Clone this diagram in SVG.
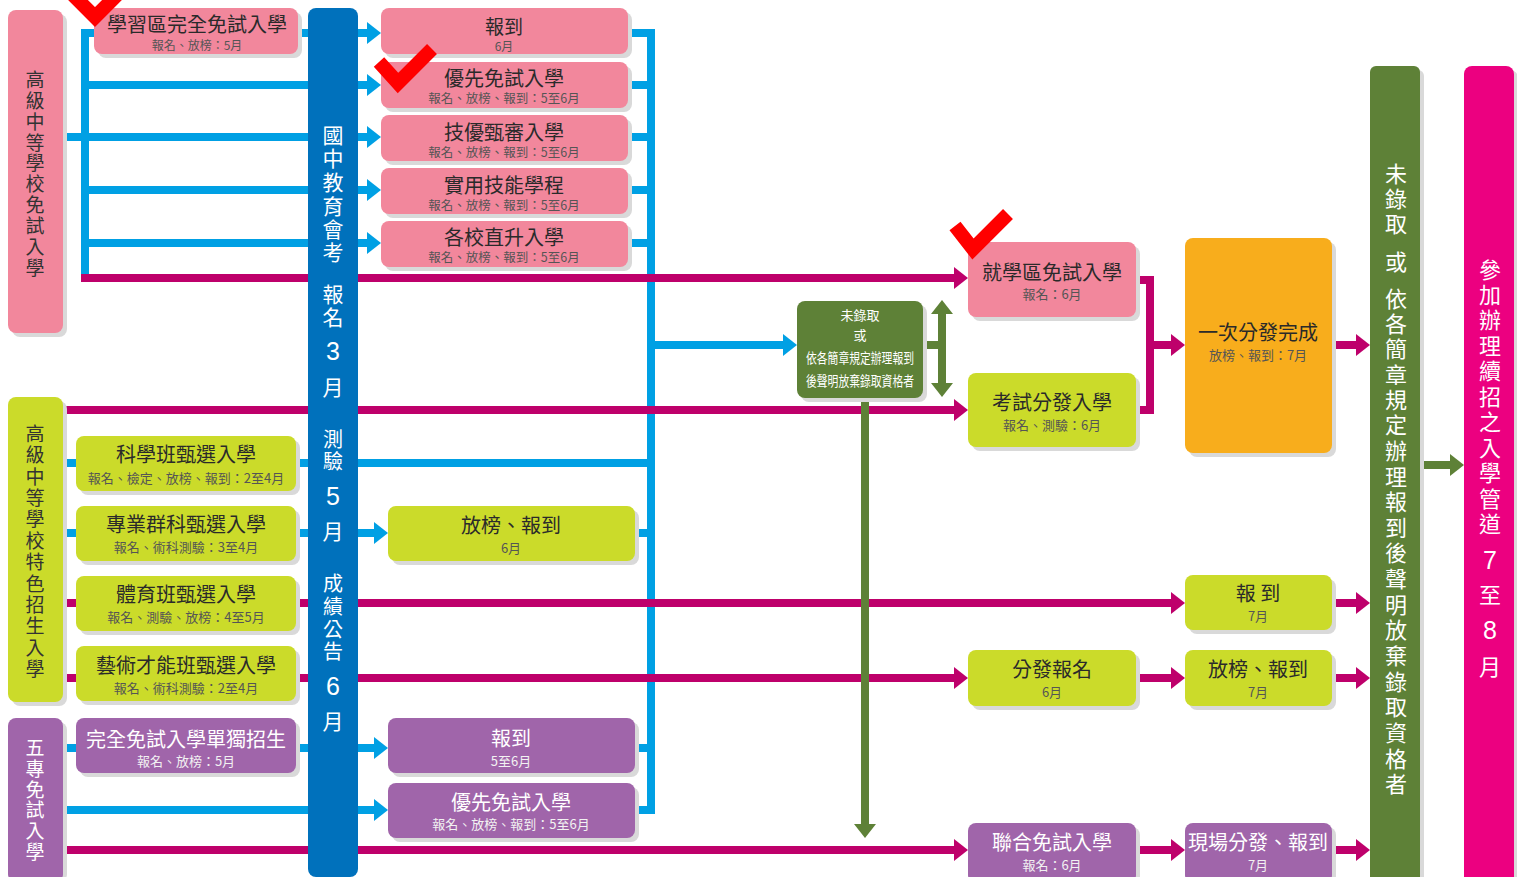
<svg xmlns="http://www.w3.org/2000/svg" width="1517" height="877" viewBox="0 0 1517 877">
<style>
text{font-family:"Noto Sans CJK TC","Noto Sans CJK SC","Noto Sans",sans-serif;text-anchor:middle;dominant-baseline:central}
.m{font-size:20px;fill:#2a2a2a}
.mw{font-size:20px;fill:#ffffff}
.s{font-size:13px;fill:#555555}
.sw{font-size:13px;fill:#f2f2f2}
.m2{font-size:19px;fill:#2a2a2a}
.s2{font-size:12px;fill:#555555}
.v{font-size:19px;fill:#333333}
.vl{font-size:19px;fill:#ffffff}
.vw{font-size:21px;fill:#ffffff}
.vb{font-size:22px;fill:#ffffff}
.num{font-size:25px;fill:#ffffff;font-family:"Liberation Sans","Noto Sans",sans-serif}
.sh{fill:#d9d9d9}
.pk{fill:#f2879c}
.yg{fill:#cbdb2a}
.pu{fill:#a065aa}
.gr{fill:#5e8137}
.or{fill:#f8ad1c}
.mg{fill:#ec0080}
.bc{fill:#0071bc}
.lb{fill:none;stroke:#00a0e4;stroke-width:8}
.lm{fill:none;stroke:#be006b;stroke-width:8}
.lg{fill:none;stroke:#5e8137;stroke-width:8}
.ck{fill:none;stroke:#ff0000;stroke-width:14}
</style>
<defs>
<marker id="ab" markerUnits="userSpaceOnUse" markerWidth="14" markerHeight="22" viewBox="0 0 14 22" refX="1" refY="11" orient="auto-start-reverse"><path d="M0,0L14,11L0,22Z" fill="#00a0e4"/></marker>
<marker id="am" markerUnits="userSpaceOnUse" markerWidth="14" markerHeight="22" viewBox="0 0 14 22" refX="1" refY="11" orient="auto-start-reverse"><path d="M0,0L14,11L0,22Z" fill="#be006b"/></marker>
<marker id="ag" markerUnits="userSpaceOnUse" markerWidth="14" markerHeight="22" viewBox="0 0 14 22" refX="1" refY="11" orient="auto-start-reverse"><path d="M0,0L14,11L0,22Z" fill="#5e8137"/></marker>
</defs>
<rect width="1517" height="877" fill="#ffffff"/>

<g id="connectors">
<path class="lb" d="M63,137H85"/>
<path class="lb" d="M94,33H85V282"/>
<path class="lb" d="M85,85H308M85,137H308M85,190H308M85,243H308M298,33H308"/>
<path class="lb" marker-end="url(#ab)" d="M358,33H368"/>
<path class="lb" marker-end="url(#ab)" d="M358,85H368"/>
<path class="lb" marker-end="url(#ab)" d="M358,137H368"/>
<path class="lb" marker-end="url(#ab)" d="M358,190H368"/>
<path class="lb" marker-end="url(#ab)" d="M358,243H368"/>
<path class="lb" d="M628,33H651M628,85H651M628,137H651M628,190H651M628,243H651"/>
<path class="lb" d="M651,29V814"/>
<path class="lb" marker-end="url(#ab)" d="M651,345H784"/>
<path class="lb" d="M63,463H76M296,463H308M358,463H651"/>
<path class="lb" d="M63,533H76M296,533H308M635,533H651"/>
<path class="lb" marker-end="url(#ab)" d="M358,533H375"/>
<path class="lb" d="M63,748H76M296,748H308M635,748H651"/>
<path class="lb" marker-end="url(#ab)" d="M358,748H375"/>
<path class="lb" d="M63,810H308M635,810H651"/>
<path class="lb" marker-end="url(#ab)" d="M358,810H375"/>
<path class="lm" marker-end="url(#am)" d="M81,278H955"/>
<path class="lm" marker-end="url(#am)" d="M63,410H955"/>
<path class="lm" d="M63,603H76M63,678H76"/>
<path class="lm" marker-end="url(#am)" d="M296,603H1172"/>
<path class="lm" marker-end="url(#am)" d="M296,678H955"/>
<path class="lm" marker-end="url(#am)" d="M63,850H955"/>
<path class="lm" d="M1136,280H1150V410H1136"/>
<path class="lm" marker-end="url(#am)" d="M1150,345H1172"/>
<path class="lm" marker-end="url(#am)" d="M1332,345H1357"/>
<path class="lm" marker-end="url(#am)" d="M1332,603H1357"/>
<path class="lm" marker-end="url(#am)" d="M1136,678H1172"/>
<path class="lm" marker-end="url(#am)" d="M1332,678H1357"/>
<path class="lm" marker-end="url(#am)" d="M1136,850H1172"/>
<path class="lm" marker-end="url(#am)" d="M1332,850H1357"/>
<path class="lg" d="M923,345H942"/>
<path class="lg" marker-start="url(#ag)" marker-end="url(#ag)" d="M942,313V384"/>
<path class="lg" marker-end="url(#ag)" d="M865,398V825"/>
<path class="lg" marker-end="url(#ag)" d="M1420,465H1451"/>
</g>

<g id="n-free">
<rect class="sh" x="12" y="14" width="55" height="323" rx="8"/>
<rect class="pk" x="8" y="10" width="55" height="323" rx="8"/>
<text class="v"><tspan x="35" y="78">高</tspan><tspan x="35" y="99">級</tspan><tspan x="35" y="120">中</tspan><tspan x="35" y="141">等</tspan><tspan x="35" y="161">學</tspan><tspan x="35" y="182">校</tspan><tspan x="35" y="203">免</tspan><tspan x="35" y="224">試</tspan><tspan x="35" y="245">入</tspan><tspan x="35" y="266">學</tspan></text>
</g>

<g id="n-study">
<rect class="sh" x="98" y="12" width="204" height="46" rx="8"/>
<rect class="pk" x="94" y="8" width="204" height="46" rx="8"/>
<text class="m2" x="197" y="23" style="font-size:20px">學習區完全免試入學</text>
<text class="s2" x="197" y="44">報名、放榜：5月</text>
</g>

<g id="n-exam">
<rect class="bc" x="308" y="8" width="50" height="869" rx="8"/>
<text class="vw"><tspan x="333" y="134">國</tspan><tspan x="333" y="157">中</tspan><tspan x="333" y="181">教</tspan><tspan x="333" y="205">育</tspan><tspan x="333" y="228">會</tspan><tspan x="333" y="251">考</tspan><tspan x="333" y="293">報</tspan><tspan x="333" y="316">名</tspan></text>
<text class="num" x="333" y="351">3</text>
<text class="vw" x="333" y="386">月</text>
<text class="vw" style="font-size:20px"><tspan x="333" y="438">測</tspan><tspan x="333" y="460">驗</tspan></text>
<text class="num" x="333" y="496">5</text>
<text class="vw" x="333" y="530">月</text>
<text class="vw" style="font-size:20px"><tspan x="333" y="582">成</tspan><tspan x="333" y="605">績</tspan><tspan x="333" y="628">公</tspan><tspan x="333" y="650">告</tspan></text>
<text class="num" x="333" y="686">6</text>
<text class="vw" x="333" y="720">月</text>
</g>

<g id="n-report6">
<rect class="sh" x="385" y="12" width="247" height="46" rx="8"/>
<rect class="pk" x="381" y="8" width="247" height="46" rx="8"/>
<text class="m2" x="504" y="25">報到</text>
<text class="s2" x="504" y="45">6月</text>
</g>
<g id="n-priority">
<rect class="sh" x="385" y="66" width="247" height="46" rx="8"/>
<rect class="pk" x="381" y="62" width="247" height="46" rx="8"/>
<text class="m2" x="504" y="77" style="font-size:20px">優先免試入學</text>
<text class="s2" x="504" y="97" style="font-size:12.5px">報名、放榜、報到：5至6月</text>
</g>
<g id="n-skill">
<rect class="sh" x="385" y="119" width="247" height="46" rx="8"/>
<rect class="pk" x="381" y="115" width="247" height="46" rx="8"/>
<text class="m2" x="504" y="131" style="font-size:20px">技優甄審入學</text>
<text class="s2" x="504" y="151" style="font-size:12.5px">報名、放榜、報到：5至6月</text>
</g>
<g id="n-practical">
<rect class="sh" x="385" y="172" width="247" height="46" rx="8"/>
<rect class="pk" x="381" y="168" width="247" height="46" rx="8"/>
<text class="m2" x="504" y="184" style="font-size:20px">實用技能學程</text>
<text class="s2" x="504" y="204" style="font-size:12.5px">報名、放榜、報到：5至6月</text>
</g>
<g id="n-direct">
<rect class="sh" x="385" y="225" width="247" height="46" rx="8"/>
<rect class="pk" x="381" y="221" width="247" height="46" rx="8"/>
<text class="m2" x="504" y="236" style="font-size:20px">各校直升入學</text>
<text class="s2" x="504" y="256" style="font-size:12.5px">報名、放榜、報到：5至6月</text>
</g>

<g id="n-special">
<rect class="sh" x="12" y="401" width="55" height="305" rx="8"/>
<rect class="yg" x="8" y="397" width="55" height="305" rx="8"/>
<text class="v"><tspan x="35" y="432">高</tspan><tspan x="35" y="453">級</tspan><tspan x="35" y="475">中</tspan><tspan x="35" y="496">等</tspan><tspan x="35" y="517">學</tspan><tspan x="35" y="539">校</tspan><tspan x="35" y="560">特</tspan><tspan x="35" y="582">色</tspan><tspan x="35" y="603">招</tspan><tspan x="35" y="624">生</tspan><tspan x="35" y="646">入</tspan><tspan x="35" y="667">學</tspan></text>
</g>
<g id="n-science">
<rect class="sh" x="80" y="440" width="220" height="55" rx="8"/>
<rect class="yg" x="76" y="436" width="220" height="55" rx="8"/>
<text class="m" x="186" y="453">科學班甄選入學</text>
<text class="s" x="186" y="477">報名、檢定、放榜、報到：2至4月</text>
</g>
<g id="n-pro">
<rect class="sh" x="80" y="510" width="220" height="55" rx="8"/>
<rect class="yg" x="76" y="506" width="220" height="55" rx="8"/>
<text class="m" x="186" y="523">專業群科甄選入學</text>
<text class="s" x="186" y="546">報名、術科測驗：3至4月</text>
</g>
<g id="n-sport">
<rect class="sh" x="80" y="580" width="220" height="55" rx="8"/>
<rect class="yg" x="76" y="576" width="220" height="55" rx="8"/>
<text class="m" x="186" y="593">體育班甄選入學</text>
<text class="s" x="186" y="616">報名、測驗、放榜：4至5月</text>
</g>
<g id="n-art">
<rect class="sh" x="80" y="650" width="220" height="55" rx="8"/>
<rect class="yg" x="76" y="646" width="220" height="55" rx="8"/>
<text class="m" x="186" y="664">藝術才能班甄選入學</text>
<text class="s" x="186" y="687">報名、術科測驗：2至4月</text>
</g>
<g id="n-release6">
<rect class="sh" x="392" y="510" width="247" height="55" rx="8"/>
<rect class="yg" x="388" y="506" width="247" height="55" rx="8"/>
<text class="m" x="511" y="524">放榜、報到</text>
<text class="s" x="511" y="547">6月</text>
</g>

<g id="n-five">
<rect class="sh" x="12" y="722" width="55" height="160" rx="8"/>
<rect class="pu" x="8" y="718" width="55" height="164" rx="8"/>
<text class="vl"><tspan x="35" y="746">五</tspan><tspan x="35" y="767">專</tspan><tspan x="35" y="788">免</tspan><tspan x="35" y="808">試</tspan><tspan x="35" y="829">入</tspan><tspan x="35" y="850">學</tspan></text>
</g>
<g id="n-five-single">
<rect class="sh" x="80" y="722" width="220" height="55" rx="8"/>
<rect class="pu" x="76" y="718" width="220" height="55" rx="8"/>
<text class="mw" x="186" y="738">完全免試入學單獨招生</text>
<text class="sw" x="186" y="760">報名、放榜：5月</text>
</g>
<g id="n-five-report">
<rect class="sh" x="392" y="722" width="247" height="55" rx="8"/>
<rect class="pu" x="388" y="718" width="247" height="55" rx="8"/>
<text class="mw" x="511" y="737">報到</text>
<text class="sw" x="511" y="760">5至6月</text>
</g>
<g id="n-five-priority">
<rect class="sh" x="392" y="787" width="247" height="55" rx="8"/>
<rect class="pu" x="388" y="783" width="247" height="55" rx="8"/>
<text class="mw" x="511" y="801">優先免試入學</text>
<text class="sw" x="511" y="823">報名、放榜、報到：5至6月</text>
</g>

<g id="n-unadmitted">
<rect class="sh" x="801" y="305" width="126" height="97" rx="8"/>
<rect class="gr" x="797" y="301" width="126" height="97" rx="8"/>
<text style="font-size:13px;fill:#fff" x="860" y="314">未錄取</text>
<text style="font-size:13px;fill:#fff" x="860" y="334">或</text>
<text style="font-size:14px;fill:#fff" x="860" y="357" textLength="108" lengthAdjust="spacingAndGlyphs">依各簡章規定辦理報到</text>
<text style="font-size:14px;fill:#fff" x="860" y="380" textLength="108" lengthAdjust="spacingAndGlyphs">後聲明放棄錄取資格者</text>
</g>

<g id="n-district">
<rect class="sh" x="972" y="246" width="168" height="75" rx="8"/>
<rect class="pk" x="968" y="242" width="168" height="75" rx="8"/>
<text class="m" x="1052" y="271">就學區免試入學</text>
<text class="s" x="1052" y="293">報名：6月</text>
</g>
<g id="n-examdist">
<rect class="sh" x="972" y="377" width="168" height="74" rx="8"/>
<rect class="yg" x="968" y="373" width="168" height="74" rx="8"/>
<text class="m" x="1052" y="401">考試分發入學</text>
<text class="s" x="1052" y="424">報名、測驗：6月</text>
</g>
<g id="n-once">
<rect class="sh" x="1189" y="242" width="147" height="215" rx="8"/>
<rect class="or" x="1185" y="238" width="147" height="215" rx="8"/>
<text class="m" x="1258" y="331">一次分發完成</text>
<text class="s" x="1258" y="354">放榜、報到：7月</text>
</g>
<g id="n-report7">
<rect class="sh" x="1189" y="579" width="147" height="55" rx="8"/>
<rect class="yg" x="1185" y="575" width="147" height="55" rx="8"/>
<text class="m" x="1258" y="592">報 到</text>
<text class="s" x="1258" y="615">7月</text>
</g>
<g id="n-distreg">
<rect class="sh" x="972" y="654" width="168" height="56" rx="8"/>
<rect class="yg" x="968" y="650" width="168" height="56" rx="8"/>
<text class="m" x="1052" y="668">分發報名</text>
<text class="s" x="1052" y="691">6月</text>
</g>
<g id="n-release7">
<rect class="sh" x="1189" y="654" width="147" height="56" rx="8"/>
<rect class="yg" x="1185" y="650" width="147" height="56" rx="8"/>
<text class="m" x="1258" y="668">放榜、報到</text>
<text class="s" x="1258" y="691">7月</text>
</g>
<g id="n-joint">
<rect class="sh" x="972" y="827" width="168" height="60" rx="8"/>
<rect class="pu" x="968" y="823" width="168" height="60" rx="8"/>
<text class="mw" x="1052" y="841">聯合免試入學</text>
<text class="sw" x="1052" y="864">報名：6月</text>
</g>
<g id="n-onsite">
<rect class="sh" x="1189" y="827" width="147" height="60" rx="8"/>
<rect class="pu" x="1185" y="823" width="147" height="60" rx="8"/>
<text class="mw" x="1258" y="841">現場分發、報到</text>
<text class="sw" x="1258" y="864">7月</text>
</g>

<g id="n-giveup">
<rect class="sh" x="1374" y="70" width="50" height="815" rx="6"/>
<rect class="gr" x="1370" y="66" width="50" height="819" rx="6"/>
<text class="vb"><tspan x="1396" y="172">未</tspan><tspan x="1396" y="197">錄</tspan><tspan x="1396" y="222">取</tspan><tspan x="1396" y="260">或</tspan><tspan x="1396" y="297">依</tspan><tspan x="1396" y="322">各</tspan><tspan x="1396" y="347">簡</tspan><tspan x="1396" y="373">章</tspan><tspan x="1396" y="398">規</tspan><tspan x="1396" y="423">定</tspan><tspan x="1396" y="449">辦</tspan><tspan x="1396" y="475">理</tspan><tspan x="1396" y="500">報</tspan><tspan x="1396" y="526">到</tspan><tspan x="1396" y="551">後</tspan><tspan x="1396" y="577">聲</tspan><tspan x="1396" y="603">明</tspan><tspan x="1396" y="628">放</tspan><tspan x="1396" y="654">棄</tspan><tspan x="1396" y="680">錄</tspan><tspan x="1396" y="705">取</tspan><tspan x="1396" y="731">資</tspan><tspan x="1396" y="757">格</tspan><tspan x="1396" y="782">者</tspan></text>
</g>

<g id="n-continue">
<rect class="sh" x="1468" y="70" width="50" height="815" rx="8"/>
<rect class="mg" x="1464" y="66" width="50" height="819" rx="8"/>
<text class="vb"><tspan x="1490" y="268">參</tspan><tspan x="1490" y="293">加</tspan><tspan x="1490" y="318">辦</tspan><tspan x="1490" y="344">理</tspan><tspan x="1490" y="369">續</tspan><tspan x="1490" y="395">招</tspan><tspan x="1490" y="420">之</tspan><tspan x="1490" y="446">入</tspan><tspan x="1490" y="471">學</tspan><tspan x="1490" y="497">管</tspan><tspan x="1490" y="522">道</tspan></text>
<text class="num" x="1490" y="560">7</text>
<text class="vb" x="1490" y="593">至</text>
<text class="num" x="1490" y="630">8</text>
<text class="vb" x="1490" y="665">月</text>
</g>

<g id="checks">
<path class="ck" d="M72,-6L95,17L128,-16"/>
<path class="ck" d="M379,62L398,83L432,49"/>
<path class="ck" d="M955,226L973,249L1008,214"/>
</g>
</svg>
